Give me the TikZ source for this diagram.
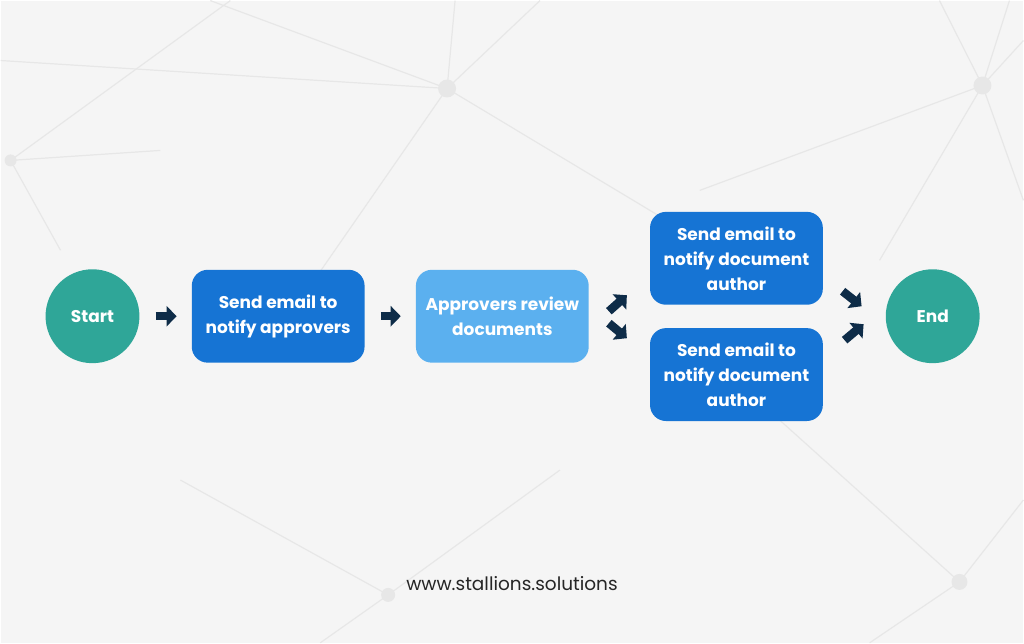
\documentclass[tikz,border=0pt]{standalone}
\usepackage{fontspec}
\setmainfont{Poppins}
\usetikzlibrary{positioning,arrows.meta}

\definecolor{bgGray}{HTML}{F5F5F5}
\definecolor{netGray}{HTML}{E7E7E7}
\definecolor{tealEnd}{HTML}{2FA698}
\definecolor{boxBlue}{HTML}{1674D4}
\definecolor{boxLight}{HTML}{5BB0EF}
\definecolor{arrowNavy}{HTML}{0E2C48}

\begin{document}
\begin{tikzpicture}[x=1pt,y=-1pt,
    terminal/.style={circle,fill=tealEnd,minimum size=94pt,inner sep=0pt,
      text=white,font=\bfseries\fontsize{17}{25}\selectfont},
    task/.style={rectangle,rounded corners=16pt,fill=boxBlue,minimum width=173pt,
      minimum height=93pt,align=center,inner sep=2pt,text=white,
      font=\bfseries\fontsize{17}{25}\selectfont},
    flow/.style={arrowNavy,line width=8.5pt,-{Triangle[width=20pt,length=10pt]}},
    net/.style={netGray,line width=1.2pt}]

% background
\fill[bgGray] (0,0) rectangle (1024,643);
\draw[net] (447,88) -- (210,0) (447,88) -- (455,0) (447,88) -- (540,0)
  (447,88) -- (0,60) (447,88) -- (300,300) (447,88) -- (700,240);
\draw[net] (983,85) -- (940,0) (983,85) -- (1010,0) (983,85) -- (1024,40)
  (983,85) -- (700,190) (983,85) -- (880,260) (983,85) -- (1024,200);
\draw[net] (10,160) -- (230,0) (10,160) -- (160,150) (10,160) -- (60,250);
\draw[net] (960,582) -- (780,420) (960,582) -- (1024,500) (960,582) -- (870,643);
\draw[net] (388,595) -- (180,480) (388,595) -- (320,643) (388,595) -- (560,470);
\fill[netGray] (447,88) circle (9) (983,85) circle (9) (960,582) circle (8)
  (388,595) circle (7) (10,160) circle (6);

% nodes
\node[terminal] (start) at (92,316) {Start};
\node[task, right=52pt of start] (notify) {Send email to\\notify approvers};
\node[task, fill=boxLight, right=51pt of notify] (review) {Approvers review\\documents};
\node[task, right=61pt of review, yshift=58pt] (author1) {Send email to\\notify document\\author};
\node[task, below=23pt of author1] (author2) {Send email to\\notify document\\author};
\node[terminal, right=297pt of review] (end) {End};

\node[text=black!85,font=\fontsize{18.5}{20}\selectfont] (site) at (512,584) {www.stallions.solutions};

% arrows
\draw[flow, shorten <=16pt, shorten >=15pt] (start) -- (notify);
\draw[flow, shorten <=16pt, shorten >=15pt] (notify) -- (review);
\draw[flow] ([xshift=20pt,yshift=5pt]review.east) -- ++(18,-16);
\draw[flow] ([xshift=20pt,yshift=-7pt]review.east) -- ++(18,15);
\draw[flow] ([xshift=-43pt,yshift=25pt]end.west) -- ++(19,15);
\draw[flow] ([xshift=-41pt,yshift=-24pt]end.west) -- ++(19,-16);

\end{tikzpicture}
\end{document}
